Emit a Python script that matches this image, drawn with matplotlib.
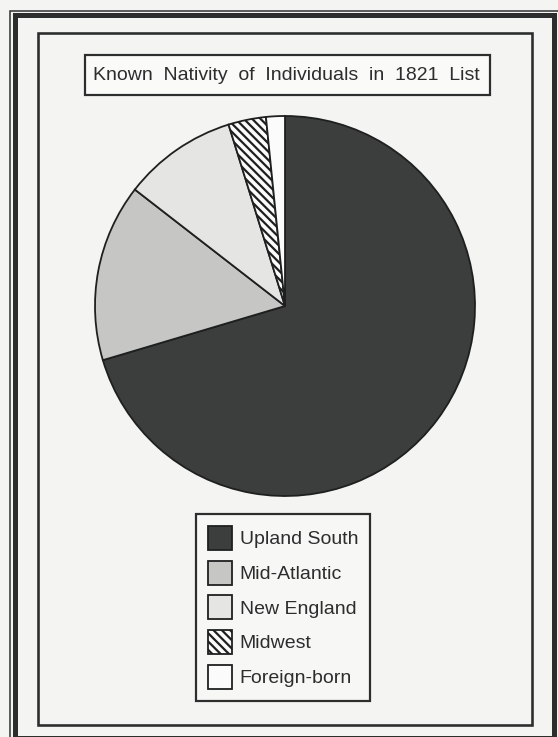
"""Pie chart: known nativity of individuals in the 1821 list."""

import matplotlib

matplotlib.use("Agg")
import matplotlib.pyplot as plt
from matplotlib.patches import Rectangle

plt.rcParams["font.family"] = ["Liberation Sans", "DejaVu Sans"]
plt.rcParams["hatch.linewidth"] = 1.6

TITLE = "Known  Nativity  of  Individuals  in  1821  List"
regions = ["Upland South", "Mid-Atlantic", "New England", "Midwest", "Foreign-born"]
shares = [70.4, 15.1, 9.7, 3.2, 1.6]
fills = ["#3b3e3c", "#c6c7c5", "#e5e6e4", "#fbfbfb", "#fbfbfb"]
hatches = [None, None, None, "\\\\\\\\", None]

PAPER = "#f4f4f2"
INK = "#2c2e2d"
W, H = 558, 737


def px(v):
    # pixel width -> points at dpi 100
    return v * 0.72


def box(ax, x0, y0, x1, y1, lw, color=INK, fc="none"):
    # corners given in image pixels (y down)
    ax.add_patch(Rectangle((x0, H - y1), x1 - x0, y1 - y0, fill=fc != "none",
                           facecolor=fc, edgecolor=color, linewidth=px(lw), zorder=1))


fig = plt.figure(figsize=(W / 100, H / 100), dpi=100)
fig.patch.set_facecolor(PAPER)
ax = fig.add_axes([0, 0, 1, 1])
ax.set_facecolor(PAPER)

wedges, _ = ax.pie(
    shares,
    colors=fills,
    startangle=90,
    counterclock=False,
    center=(285, H - 306),
    radius=190,
    frame=True,
    wedgeprops={"edgecolor": "#1e201f", "linewidth": px(1.8)},
)
for wedge, hatch in zip(wedges, hatches):
    if hatch:
        wedge.set_hatch(hatch)

# frames
box(ax, 9.5, 10.5, 560, 745, 1.5)
box(ax, 14.5, 15, 553.5, 738, 5)
box(ax, 37.5, 32.5, 531.5, 724.5, 2.6)
box(ax, 84.5, 54.5, 489.5, 94.5, 2.2, fc="#fafaf8")
ax.text(286, H - 75, TITLE, ha="center", va="center", fontsize=14, color=INK)

leg = ax.legend(
    wedges,
    regions,
    loc="upper left",
    bbox_to_anchor=(196 / W, 1 - 514 / H),
    bbox_transform=fig.transFigure,
    fontsize=14,
    handlelength=1.25,
    handleheight=1.52,
    handletextpad=0.38,
    labelspacing=0.55,
    borderpad=0.62,
    borderaxespad=0,
    fancybox=False,
    framealpha=1,
    edgecolor=INK,
    facecolor="#f7f7f5",
)
leg.get_frame().set_linewidth(px(2.2))
for text in leg.get_texts():
    text.set_color(INK)

ax.set_xlim(0, W)
ax.set_ylim(0, H)
ax.set_aspect("equal")
ax.axis("off")

fig.savefig("out.png", dpi=100, facecolor=PAPER)
